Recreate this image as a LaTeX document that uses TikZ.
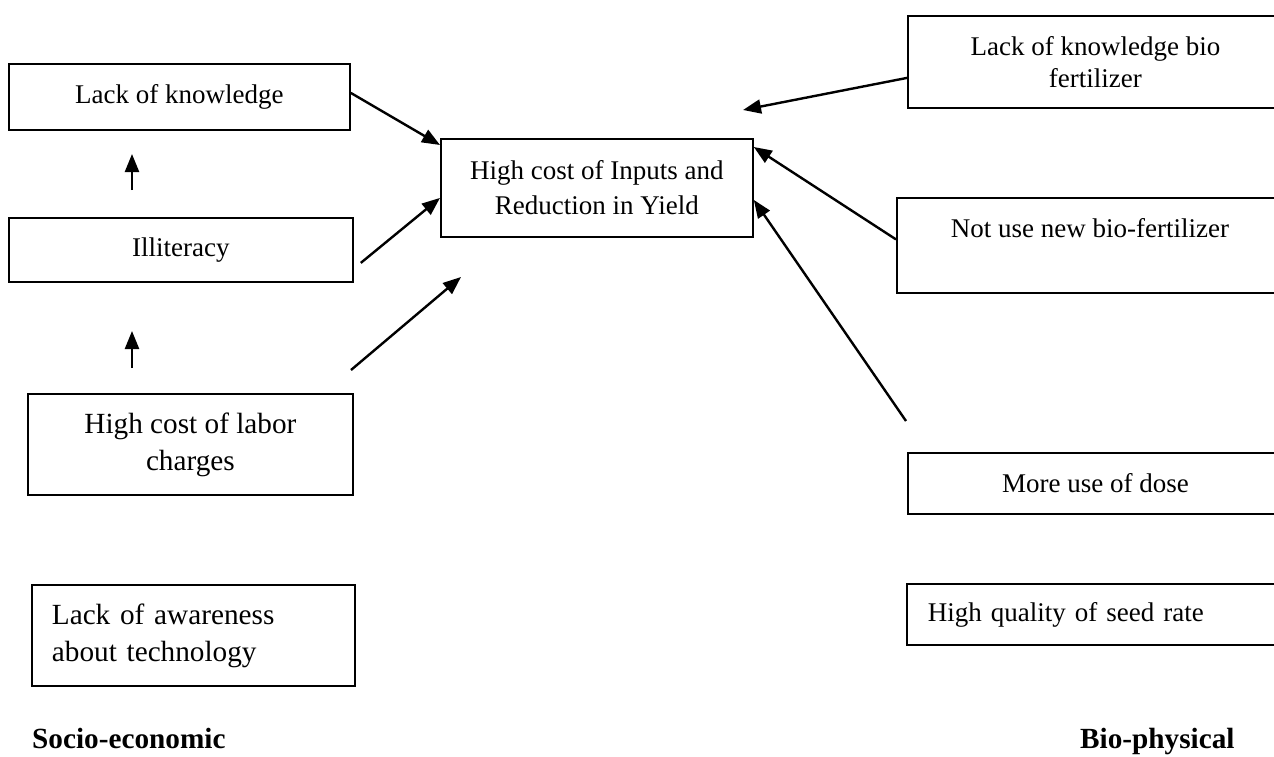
\documentclass[tikz,border=0pt]{standalone}
\usepackage{fontspec}
\setmainfont{Liberation Serif}
\usepackage{tikz}
\usetikzlibrary{arrows.meta}

\newcommand{\boxtxt}{\fontsize{27}{35}\selectfont}
\newcommand{\bigboxtxt}{\fontsize{29.25}{37}\selectfont}

\tikzset{
	box/.style={draw, line width=1.8pt, inner sep=0pt, anchor=north west, align=center, font=\boxtxt},
	link/.style={line width=2.4pt, -{Triangle[length=18pt,width=14pt]}},
	side/.style={anchor=base west, inner sep=0pt, font=\bigboxtxt\bfseries},
}

\begin{document}
\begin{tikzpicture}[x=1pt,y=-1pt]
	\useasboundingbox (0,0) rectangle (1274,756);

	% socio-economic side
	\node[box, minimum width=341pt, minimum height=66pt] (know) at (8,63) {Lack of knowledge};
	\node[box, minimum width=344pt, minimum height=64pt] (illit) at (8,217) {Illiteracy};
	\node[box, minimum width=325pt, minimum height=101pt, font=\bigboxtxt] (labor) at (27,393) {High cost of labor\\charges};
	\node[box, minimum width=323pt, minimum height=101pt, font=\bigboxtxt, align=left, text width=283pt] (aware) at (31,584) {Lack of awareness\\about technology};

	% problem
	\node[box, minimum width=312pt, minimum height=98pt] (ctr) at (440,138) {High cost of Inputs and\\Reduction in Yield};

	% bio-physical side
	\node[box, minimum width=375pt, minimum height=92pt, font=\fontsize{27}{32}\selectfont] (bioknow) at (907,15) {Lack of knowledge bio\\fertilizer};
	\node[box, minimum width=386pt, minimum height=95pt] (notuse) at (896,197) {Not use new bio-fertilizer\\\mbox{}};
	\node[box, minimum width=375pt, minimum height=61pt] (dose) at (907,452) {More use of dose};
	\node[box, minimum width=376pt, minimum height=61pt, align=left, text width=334pt] (seed) at (906,583) {High quality of seed rate};

	\node[side] (socio) at (32,748) {Socio-economic};
	\node[side] (bio) at (1080,748) {Bio-physical};

	% free arrow ends
	\coordinate (up1s) at (132,190);
	\coordinate (up1e) at (132,154);
	\coordinate (up2s) at (132,368);
	\coordinate (up2e) at (132,331);
	\coordinate (labtail) at (351,370);
	\coordinate (labtip) at (461,277);
	\coordinate (biotip) at (743,110);
	\coordinate (dosetail) at (906,421);

	\draw[link] (up1s) -- (up1e);
	\draw[link] (up2s) -- (up2e);
	\draw[link] ([yshift=4pt]know.east) -- ([yshift=-7pt]ctr.north west);
	\draw[link] ([xshift=7pt,yshift=-13pt]illit.east) -- ([yshift=-10pt]ctr.west);
	\draw[link] (labtail) -- (labtip);
	\draw[link] ([yshift=-16pt]bioknow.west) -- (biotip);
	\draw[link] ([yshift=6pt]notuse.west) -- ([yshift=-9pt]ctr.north east);
	\draw[link] (dosetail) -- ([yshift=-12pt]ctr.east);
\end{tikzpicture}
\end{document}
